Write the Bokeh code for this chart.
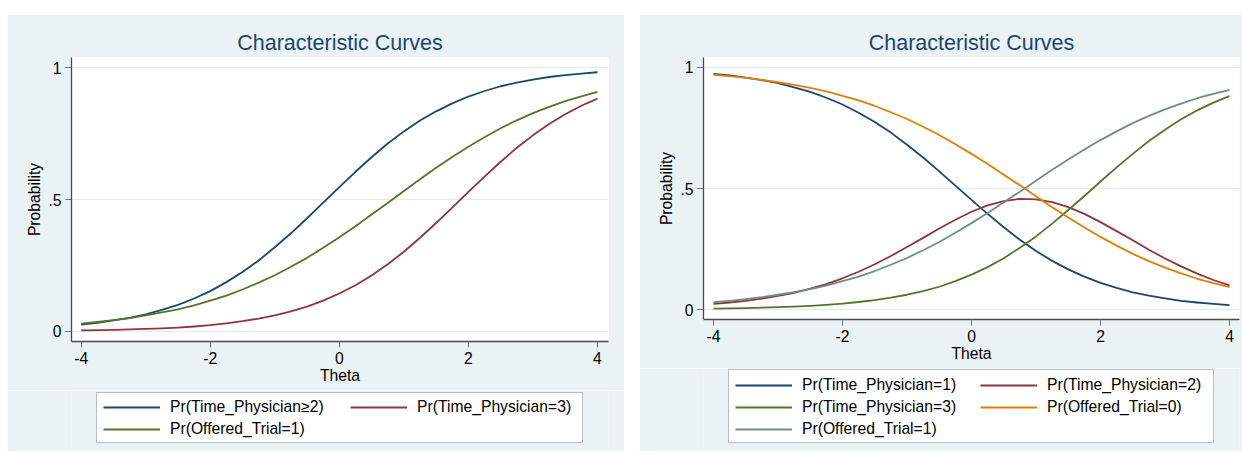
from bokeh.plotting import figure
from bokeh.models import Legend, LegendItem, FixedTicker, Spacer, Range1d, BoxAnnotation
from bokeh.layouts import row, column
from bokeh.embed import file_html
from bokeh.resources import INLINE

# ---------------- data ----------------
theta = [-4.0, -3.75, -3.5, -3.25, -3.0, -2.75, -2.5, -2.25, -2.0, -1.75, -1.5,
         -1.25, -1.0, -0.75, -0.5, -0.25, 0.0, 0.25, 0.5, 0.75, 1.0, 1.25, 1.5,
         1.75, 2.0, 2.25, 2.5, 2.75, 3.0, 3.25, 3.5, 3.75, 4.0]

# left panel
left_tp_ge2 = [0.026, 0.033, 0.042, 0.052, 0.065, 0.082, 0.101, 0.125, 0.153, 0.187, 0.225,
               0.269, 0.319, 0.372, 0.429, 0.488, 0.547, 0.605, 0.660, 0.712, 0.758, 0.799,
               0.834, 0.864, 0.890, 0.911, 0.929, 0.943, 0.954, 0.964, 0.971, 0.977, 0.982]
left_tp_3 = [0.004, 0.005, 0.006, 0.008, 0.010, 0.012, 0.015, 0.019, 0.024, 0.031, 0.039,
             0.049, 0.061, 0.076, 0.094, 0.117, 0.144, 0.175, 0.212, 0.255, 0.302, 0.355,
             0.411, 0.469, 0.529, 0.587, 0.643, 0.696, 0.743, 0.786, 0.823, 0.855, 0.882]
left_ot_1 = [0.030, 0.036, 0.043, 0.051, 0.061, 0.072, 0.084, 0.099, 0.117, 0.136, 0.159,
             0.185, 0.213, 0.245, 0.279, 0.317, 0.357, 0.399, 0.443, 0.487, 0.532, 0.577,
             0.620, 0.661, 0.700, 0.736, 0.770, 0.800, 0.827, 0.851, 0.873, 0.891, 0.908]

# right panel
right_tp_1 = [0.974, 0.967, 0.958, 0.948, 0.935, 0.918, 0.899, 0.875, 0.847, 0.813, 0.775,
              0.731, 0.681, 0.628, 0.571, 0.512, 0.453, 0.395, 0.340, 0.288, 0.242, 0.201,
              0.166, 0.136, 0.110, 0.089, 0.071, 0.057, 0.046, 0.036, 0.029, 0.023, 0.018]
right_tp_2 = [0.023, 0.029, 0.036, 0.045, 0.056, 0.069, 0.086, 0.105, 0.129, 0.156, 0.187,
              0.221, 0.258, 0.296, 0.335, 0.371, 0.404, 0.430, 0.448, 0.457, 0.455, 0.444,
              0.423, 0.395, 0.361, 0.324, 0.286, 0.247, 0.211, 0.178, 0.148, 0.122, 0.100]
right_tp_3 = [0.004, 0.005, 0.006, 0.008, 0.010, 0.012, 0.015, 0.019, 0.024, 0.031, 0.039,
              0.049, 0.061, 0.076, 0.094, 0.117, 0.144, 0.175, 0.212, 0.255, 0.302, 0.355,
              0.411, 0.469, 0.529, 0.587, 0.643, 0.696, 0.743, 0.786, 0.823, 0.855, 0.882]
right_ot_0 = [0.970, 0.964, 0.957, 0.949, 0.939, 0.928, 0.916, 0.901, 0.883, 0.864, 0.841,
              0.815, 0.787, 0.755, 0.721, 0.683, 0.643, 0.601, 0.557, 0.513, 0.468, 0.423,
              0.380, 0.339, 0.300, 0.264, 0.230, 0.200, 0.173, 0.149, 0.127, 0.109, 0.092]
right_ot_1 = [0.030, 0.036, 0.043, 0.051, 0.061, 0.072, 0.084, 0.099, 0.117, 0.136, 0.159,
              0.185, 0.213, 0.245, 0.279, 0.317, 0.357, 0.399, 0.443, 0.487, 0.532, 0.577,
              0.620, 0.661, 0.700, 0.736, 0.770, 0.800, 0.827, 0.851, 0.873, 0.891, 0.908]

left_names = ["Pr(Time_Physician\u22652)", "Pr(Time_Physician=3)", "Pr(Offered_Trial=1)"]
right_names = ["Pr(Time_Physician=1)", "Pr(Time_Physician=2)", "Pr(Time_Physician=3)",
               "Pr(Offered_Trial=0)", "Pr(Offered_Trial=1)"]

x_ticks = [-4, -2, 0, 2, 4]
x_tick_labels = ["-4", "-2", "0", "2", "4"]
y_ticks = [0, 0.5, 1]
y_tick_labels = ["0", ".5", "1"]

title_text = "Characteristic Curves"
x_title = "Theta"
y_title = "Probability"

# ---------------- styles ----------------
BG = "#EAF2F3"
GRID = "#E2EBEE"
NAVY = "#1A476F"
MAROON = "#90353B"
GREEN = "#55752F"
ORANGE = "#E37E00"
TEAL = "#6E8E84"
FONT = "Liberation Sans"
FS = "15.7px"
LW = 1.8


def make_main(fw, fh, xr, yr, mb, series):
    p = figure(frame_width=fw, frame_height=fh,
               x_range=Range1d(*xr), y_range=Range1d(*yr),
               output_backend="svg", toolbar_location=None,
               min_border_left=mb[0], min_border_right=mb[1],
               min_border_top=mb[2], min_border_bottom=mb[3],
               background_fill_color="white", border_fill_color=BG,
               outline_line_color=None)
    p.title.text = title_text
    p.title.align = "center"
    p.title.text_font = FONT
    p.title.text_font_size = "21.5px"
    p.title.text_font_style = "normal"
    p.title.text_color = NAVY
    p.title.standoff = 5

    p.xgrid.visible = False
    p.ygrid.ticker = FixedTicker(ticks=y_ticks)
    p.ygrid.grid_line_color = GRID
    p.ygrid.grid_line_width = 1.2

    for ax, ticks, labs, t in ((p.xaxis[0], x_ticks, x_tick_labels, x_title),
                               (p.yaxis[0], y_ticks, y_tick_labels, y_title)):
        ax.ticker = FixedTicker(ticks=ticks)
        ax.major_label_overrides = {tk: lb for tk, lb in zip(ticks, labs)}
        ax.axis_label = t
        ax.axis_label_text_font = FONT
        ax.axis_label_text_font_size = FS
        ax.axis_label_text_font_style = "normal"
        ax.axis_label_text_color = "black"
        ax.major_label_text_font = FONT
        ax.major_label_text_font_size = FS
        ax.major_label_text_color = "black"
        ax.axis_line_color = "#4a4a4a"
        ax.axis_line_width = 1.3
        ax.major_tick_line_color = "#6a6a6a"
        ax.major_tick_out = 6
        ax.major_tick_in = 0
        ax.minor_tick_line_color = None
    p.xaxis[0].major_label_standoff = 4
    p.xaxis[0].axis_label_standoff = 0
    p.yaxis[0].major_label_standoff = 4
    p.yaxis[0].axis_label_standoff = 2

    for name, ys, color in series:
        p.line(theta, ys, line_color=color, line_width=LW, line_join="round")
    return p


def make_legend(fw, fh, mb, series, cols, col_pos, box):
    q = figure(frame_width=fw, frame_height=fh,
               x_range=Range1d(0, fw), y_range=Range1d(0, fh),
               output_backend="svg", toolbar_location=None,
               x_axis_location=None, y_axis_location=None,
               min_border_left=mb[0], min_border_right=mb[1],
               min_border_top=0, min_border_bottom=0,
               background_fill_color=BG, border_fill_color=BG,
               outline_line_color=None)
    q.xgrid.visible = False
    q.ygrid.visible = False
    bl, br, bb, bt = box
    q.add_layout(BoxAnnotation(left=bl, right=br, bottom=bb, top=bt,
                               fill_color="white", fill_alpha=1.0,
                               line_color="#333333", line_width=1.0))
    rend = {}
    for name, ys, color in series:
        rend[name] = q.line(theta, ys, line_color=color, line_width=LW, visible=False)
    for names, (vx, vy) in zip(cols, col_pos):
        items = [LegendItem(label=n, renderers=[rend[n]]) for n in names]
        lg = Legend(items=items, location=(vx, vy), orientation="vertical",
                    padding=0, margin=0, spacing=2,
                    border_line_color=None, background_fill_alpha=0.0,
                    glyph_width=57, glyph_height=20, label_height=20,
                    label_standoff=10, label_text_font=FONT,
                    label_text_font_size=FS, label_text_color="black")
        q.add_layout(lg)
    return q


left_series = [(left_names[0], left_tp_ge2, NAVY),
               (left_names[1], left_tp_3, MAROON),
               (left_names[2], left_ot_1, GREEN)]
right_series = [(right_names[0], right_tp_1, NAVY),
                (right_names[1], right_tp_2, MAROON),
                (right_names[2], right_tp_3, GREEN),
                (right_names[3], right_ot_0, ORANGE),
                (right_names[4], right_ot_1, TEAL)]

left_main = make_main(537, 284, (-4.150, 4.171), (-0.0379, 1.0379),
                      (64, 16, 43, 49), left_series)
left_leg = make_legend(537, 61, (64, 16), left_series,
                       [[left_names[0], left_names[2]], [left_names[1]]],
                       [(32, 12), (279, 34)],
                       (25, 511, 9, 59))

right_main = make_main(536, 262, (-4.155, 4.155), (-0.0413, 1.0413),
                       (64, 3, 43, 49), right_series)
right_leg = make_legend(536, 83, (64, 3), right_series,
                        [[right_names[0], right_names[2], right_names[4]],
                         [right_names[1], right_names[3]]],
                        [(32, 12), (277, 34)],
                        (25, 510, 9, 82))

layout = column(Spacer(height=14),
                row(Spacer(width=7), column(left_main, left_leg),
                    Spacer(width=15), column(right_main, right_leg)))
open("out.html", "w").write(file_html(layout, INLINE))
